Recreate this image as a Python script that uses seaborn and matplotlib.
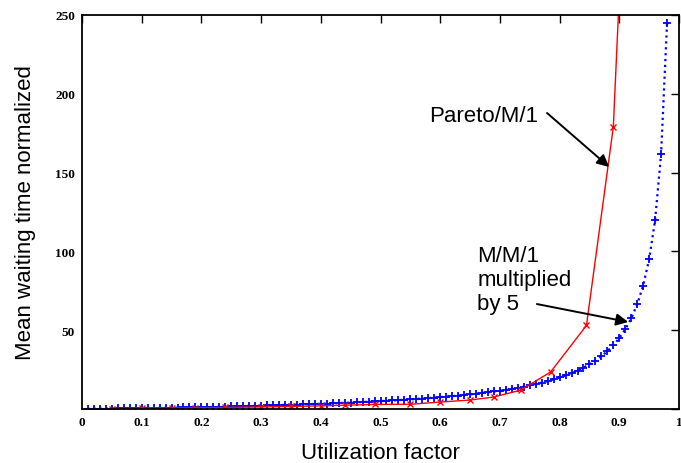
import numpy as np
import pandas as pd
import matplotlib
matplotlib.use("Agg")
import matplotlib.pyplot as plt
import seaborn as sns

# Pareto/M/1
pareto_rho = [0.05, 0.10, 0.15, 0.19, 0.24, 0.30, 0.35, 0.40, 0.44, 0.49,
              0.55, 0.60, 0.65, 0.69, 0.735, 0.785, 0.845, 0.89, 0.94]
pareto_w = [0.3, 0.5, 0.6, 0.8, 1.0, 1.3, 1.6, 2.0, 2.4, 2.9,
            3.0, 4.4, 5.7, 7.6, 12.0, 23.5, 53.0, 179.0, 600.0]

# M/M/1 multiplied by 5
mm1_rho = [0.01, 0.02, 0.03, 0.04, 0.05, 0.06, 0.07, 0.08, 0.09, 0.10,
           0.11, 0.12, 0.13, 0.14, 0.15, 0.16, 0.17, 0.18, 0.19, 0.20,
           0.21, 0.22, 0.23, 0.24, 0.25, 0.26, 0.27, 0.28, 0.29, 0.30,
           0.31, 0.32, 0.33, 0.34, 0.35, 0.36, 0.37, 0.38, 0.39, 0.40,
           0.41, 0.42, 0.43, 0.44, 0.45, 0.46, 0.47, 0.48, 0.49, 0.50,
           0.51, 0.52, 0.53, 0.54, 0.55, 0.56, 0.57, 0.58, 0.59, 0.60,
           0.61, 0.62, 0.63, 0.64, 0.65, 0.66, 0.67, 0.68, 0.69, 0.70,
           0.71, 0.72, 0.73, 0.74, 0.75, 0.76, 0.77, 0.78, 0.79, 0.80,
           0.81, 0.82, 0.83, 0.84, 0.85, 0.86, 0.87, 0.88, 0.89, 0.90,
           0.91, 0.92, 0.93, 0.94, 0.95, 0.96, 0.97, 0.98]
mm1_w = [0.05, 0.10, 0.15, 0.21, 0.26, 0.32, 0.38, 0.43, 0.49, 0.56,
         0.62, 0.68, 0.75, 0.81, 0.88, 0.95, 1.02, 1.10, 1.17, 1.25,
         1.33, 1.41, 1.49, 1.58, 1.67, 1.76, 1.85, 1.94, 2.04, 2.14,
         2.25, 2.35, 2.46, 2.58, 2.69, 2.81, 2.94, 3.06, 3.20, 3.33,
         3.47, 3.62, 3.77, 3.93, 4.09, 4.26, 4.43, 4.62, 4.80, 5.00,
         5.20, 5.42, 5.64, 5.87, 6.11, 6.36, 6.63, 6.90, 7.20, 7.50,
         7.82, 8.16, 8.51, 8.89, 9.29, 9.71, 10.15, 10.63, 11.13, 11.67,
         12.24, 12.86, 13.52, 14.23, 15.00, 15.83, 16.74, 17.73, 18.81, 20.00,
         21.32, 22.78, 24.41, 26.25, 28.33, 30.71, 33.46, 36.67, 40.45, 45.00,
         50.56, 57.50, 66.43, 78.33, 95.00, 120.00, 161.67, 245.00]

xticks = [0, 0.1, 0.2, 0.3, 0.4, 0.5, 0.6, 0.7, 0.8, 0.9, 1]
xtick_labels = ["0", "0.1", "0.2", "0.3", "0.4", "0.5", "0.6", "0.7", "0.8", "0.9", "1"]
yticks = [0, 50, 100, 150, 200, 250]
ytick_labels = ["", "50", "100", "150", "200", "250"]

sns.set_style("white")
plt.rcParams['font.family'] = ['Liberation Sans', 'DejaVu Sans']
plt.rcParams['text.color'] = 'black'
plt.rcParams['axes.labelcolor'] = 'black'

fig = plt.figure(figsize=(6.81, 4.64), dpi=100)
ax = fig.add_axes([82/681, 1-410/464, 597/681, 394/464])

sns.lineplot(x=mm1_rho, y=mm1_w, ax=ax, color='blue', linestyle=':', lw=1.6,
             marker='+', markersize=5.5, markeredgewidth=1.3, markeredgecolor='blue')
sns.lineplot(x=pareto_rho, y=pareto_w, ax=ax, color='red', lw=1.0,
             marker='x', markersize=4.5, markeredgewidth=1.0, markeredgecolor='red')

ax.set_xlim(0, 1)
ax.set_ylim(0, 250)
ax.set_xticks(xticks)
ax.set_xticklabels(xtick_labels)
ax.set_yticks(yticks)
ax.set_yticklabels(ytick_labels)
for lab in ax.get_xticklabels() + ax.get_yticklabels():
    lab.set_family('Liberation Serif')
    lab.set_fontweight('bold')
    lab.set_fontsize(9.5)
ax.tick_params(direction='in', length=6, width=1.0, top=True, right=True,
               colors='black', labelcolor='black', pad=5)
for s in ax.spines.values():
    s.set_visible(True)
    s.set_color('black')
    s.set_linewidth(1.3)

ax.set_xlabel('Utilization factor', fontsize=16, labelpad=10)
ax.set_ylabel('Mean waiting time normalized', fontsize=16, labelpad=14)

arrow = dict(arrowstyle='-|>', color='black', lw=1.4, mutation_scale=18,
             shrinkA=0, shrinkB=0)
ax.text(0.764, 186.5, 'Pareto/M/1', fontsize=16, ha='right', va='center')
ax.annotate('', xy=(0.883, 153.6), xytext=(0.779, 187.8), arrowprops=arrow)
ax.text(0.662, 60, 'M/M/1\nmultiplied\nby 5', fontsize=16, ha='left', va='bottom',
        linespacing=1.2)
ax.annotate('', xy=(0.915, 55.2), xytext=(0.762, 66.6), arrowprops=arrow)

fig.savefig('out.png', dpi=100)
